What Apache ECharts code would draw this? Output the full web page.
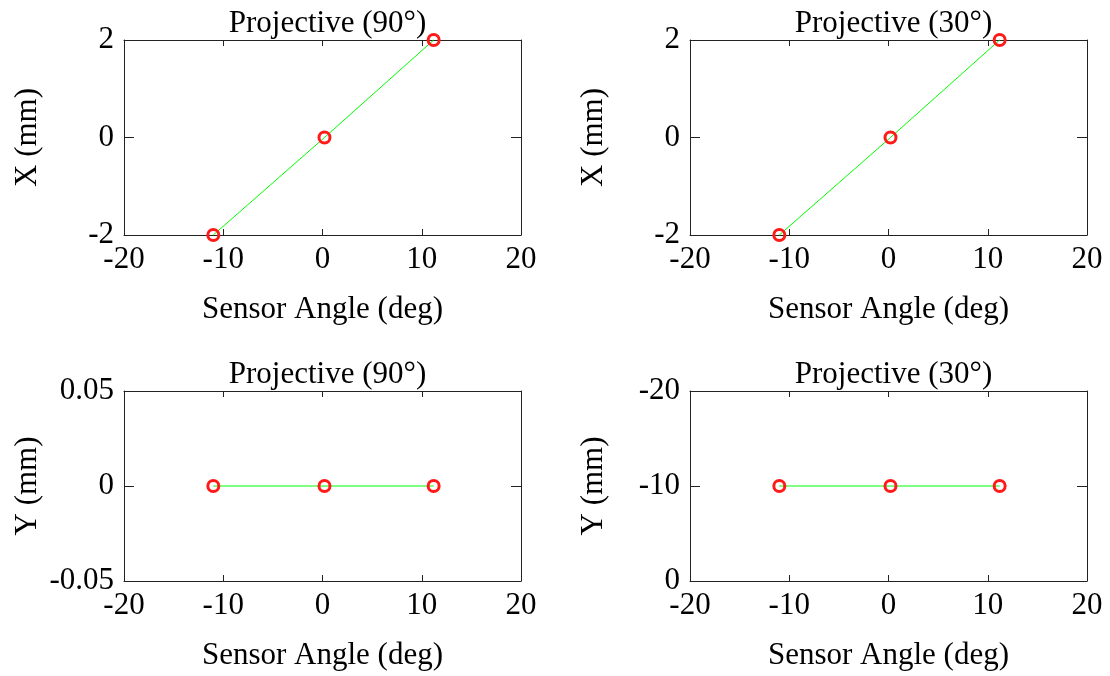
<!DOCTYPE html>
<html>
<head>
<meta charset="utf-8">
<script src="https://cdn.jsdelivr.net/npm/echarts@6/dist/echarts.min.js"></script>
<style>
html,body{margin:0;padding:0;background:#fff;}
#chart{width:1110px;height:676px;}
</style>
</head>
<body>
<div id="chart"></div>
<script>
// ---- data ----
const sensorAngleDeg = [-11.0, 0.2, 11.2];
const xProj90 = [-2, 0, 2];
const xProj30 = [-2, 0, 2];
const yProj90 = [0, 0, 0];
const yProj30 = [-10, -10, -10];
const titles = ['Projective (90°)', 'Projective (30°)', 'Projective (90°)', 'Projective (30°)'];
const xAxisName = 'Sensor Angle (deg)';
const yAxisNames = ['X (mm)', 'X (mm)', 'Y (mm)', 'Y (mm)'];
const xTicks = {min: -20, max: 20, interval: 10};
const yTicks = [
  {min: -2, max: 2, interval: 2, inverse: false},
  {min: -2, max: 2, interval: 2, inverse: false},
  {min: -0.05, max: 0.05, interval: 0.05, inverse: false},
  {min: -20, max: 0, interval: 10, inverse: true}
];
const seriesData = [xProj90, xProj30, yProj90, yProj30];

// ---- layout ----
const FONT = 'Liberation Serif';
const FS = 31;
const grids = [
  {left: 124, top: 40, width: 397, height: 195},
  {left: 690, top: 40, width: 397, height: 195},
  {left: 124, top: 391, width: 397, height: 190},
  {left: 690, top: 391, width: 397, height: 190}
];
const lineCol = '#222';

const option = {
  animation: false,
  backgroundColor: '#fff',
  title: [], grid: [], xAxis: [], yAxis: [], series: []
};

grids.forEach((g, i) => {
  option.grid.push(Object.assign({containLabel: false}, g));
  option.title.push({
    text: titles[i],
    left: g.left + g.width / 2,
    top: g.top - 37,
    textAlign: 'center',
    textStyle: {fontFamily: FONT, fontSize: FS, fontWeight: 'normal', color: '#000'}
  });
  const yt = yTicks[i];
  option.xAxis.push({
    type: 'value', gridIndex: i, position: 'bottom',
    min: xTicks.min, max: xTicks.max, interval: xTicks.interval,
    name: xAxisName, nameLocation: 'middle', nameGap: 59,
    nameTextStyle: {fontFamily: FONT, fontSize: FS, color: '#000'},
    axisLine: {show: true, onZero: false, lineStyle: {color: lineCol, width: 1}},
    axisTick: {show: true, inside: true, length: 6, lineStyle: {color: lineCol}},
    axisLabel: {fontFamily: FONT, fontSize: FS, color: '#000', margin: 9},
    splitLine: {show: false}
  });
  option.xAxis.push({
    type: 'value', gridIndex: i, position: 'top',
    min: xTicks.min, max: xTicks.max, interval: xTicks.interval,
    axisLine: {show: true, onZero: false, lineStyle: {color: lineCol, width: 1}},
    axisTick: {show: true, inside: true, length: 6, lineStyle: {color: lineCol}},
    axisLabel: {show: false},
    splitLine: {show: false}
  });
  option.yAxis.push({
    type: 'value', gridIndex: i, position: 'left',
    min: yt.min, max: yt.max, interval: yt.interval, inverse: yt.inverse,
    name: yAxisNames[i], nameLocation: 'middle', nameGap: 81,
    nameTextStyle: {fontFamily: FONT, fontSize: FS, color: '#000'},
    axisLine: {show: true, onZero: false, lineStyle: {color: lineCol, width: 1}},
    axisTick: {show: true, inside: true, length: 10, lineStyle: {color: lineCol}},
    axisLabel: {fontFamily: FONT, fontSize: FS, color: '#000', margin: 10},
    splitLine: {show: false}
  });
  option.yAxis.push({
    type: 'value', gridIndex: i, position: 'right',
    min: yt.min, max: yt.max, interval: yt.interval, inverse: yt.inverse,
    axisLine: {show: true, onZero: false, lineStyle: {color: lineCol, width: 1}},
    axisTick: {show: true, inside: true, length: 10, lineStyle: {color: lineCol}},
    axisLabel: {show: false},
    splitLine: {show: false}
  });
  option.series.push({
    type: 'line',
    xAxisIndex: i * 2, yAxisIndex: i * 2,
    data: sensorAngleDeg.map((a, k) => [a, seriesData[i][k]]),
    clip: false,
    symbol: 'circle', symbolSize: 11,
    lineStyle: {color: '#00ff00', width: 1},
    itemStyle: {color: 'rgba(0,0,0,0)', borderColor: '#ff1a1a', borderWidth: 3},
    emphasis: {disabled: true}
  });
});

const chart = echarts.init(document.getElementById('chart'), null, {renderer: 'canvas'});
chart.setOption(option);
</script>
</body>
</html>
